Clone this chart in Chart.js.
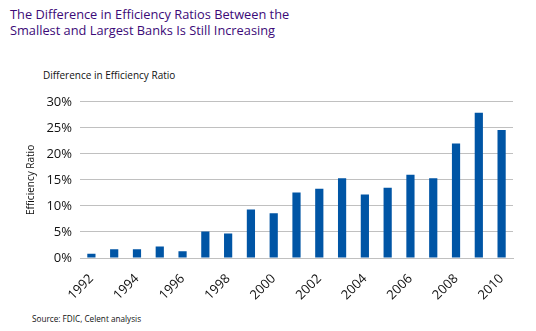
<!DOCTYPE html>
<html>
<head>
<meta charset="utf-8">
<script src="https://cdn.jsdelivr.net/npm/chart.js@4.4.1/dist/chart.umd.min.js"></script>
<style>
  html,body{margin:0;padding:0;background:#fff;}
  body{width:536px;height:331px;position:relative;overflow:hidden;font-family:"Open Sans","Noto Sans",sans-serif;}
  #titulo{position:absolute;left:10px;top:6px;font-size:12.8px;line-height:16px;color:#3c0a78;}
  #subtitulo{position:absolute;left:43px;top:68px;font-size:10px;color:#111;}
  #fonte{position:absolute;left:32px;top:313px;font-size:8.2px;color:#111;}
  #wrap{position:absolute;left:0;top:86px;width:536px;height:224px;}
</style>
</head>
<body>
<div id="titulo">The Difference in Efficiency Ratios Between the<br>Smallest and Largest Banks Is Still Increasing</div>
<div id="subtitulo">Difference in Efficiency Ratio</div>
<div id="wrap"><canvas id="grafico"></canvas></div>
<div id="fonte">Source: FDIC, Celent analysis</div>
<script>
(function(){

// anos e diferença (%)
const anos = ["1992","1993","1994","1995","1996","1997","1998","1999","2000","2001",
              "2002","2003","2004","2005","2006","2007","2008","2009","2010"];
const diferenca = [0.8,1.7,1.7,2.2,1.3,5.1,4.7,9.3,8.6,12.6,
                   13.3,15.3,12.2,13.5,16.0,15.3,22.0,27.9,24.6];
const ticksY = [0,5,10,15,20,25,30];

const fonteEixo = {family:"Open Sans", size:13};

new Chart(document.getElementById("grafico"),{
  type:"bar",
  data:{
    labels:anos,
    datasets:[{label:"Efficiency Ratio",data:diferenca,backgroundColor:"#0055a5",
      categoryPercentage:1,barPercentage:0.36}]
  },
  options:{
    responsive:true,
    maintainAspectRatio:false,
    animation:false,
    layout:{padding:{left:0,right:23,top:7,bottom:0}},
    plugins:{legend:{display:false},tooltip:{enabled:false}},
    scales:{
      x:{
        grid:{display:false,drawTicks:false},
        border:{display:true,color:"#c0c0c0",width:1},
        ticks:{
          autoSkip:false,minRotation:45,maxRotation:45,
          color:"#111",font:fonteEixo,padding:13,
          callback:(v,i)=> i%2===0 ? anos[i] : ""
        },
        afterFit:s=>{ s.height = 52; }
      },
      y:{
        min:0,max:30,
        afterBuildTicks:s=>{ s.ticks = ticksY.map(v=>({value:v})); },
        grid:{color:"#c0c0c0",lineWidth:1,drawTicks:false},
        border:{display:false},
        ticks:{color:"#111",font:fonteEixo,padding:8,callback:v=>v+"%"},
        title:{display:true,text:"Efficiency Ratio",color:"#111",
          font:{family:"Open Sans",size:10},padding:{top:25,bottom:0}},
        afterFit:s=>{ s.width = 80; }
      }
    }
  }
});

})();
</script>
</body>
</html>
